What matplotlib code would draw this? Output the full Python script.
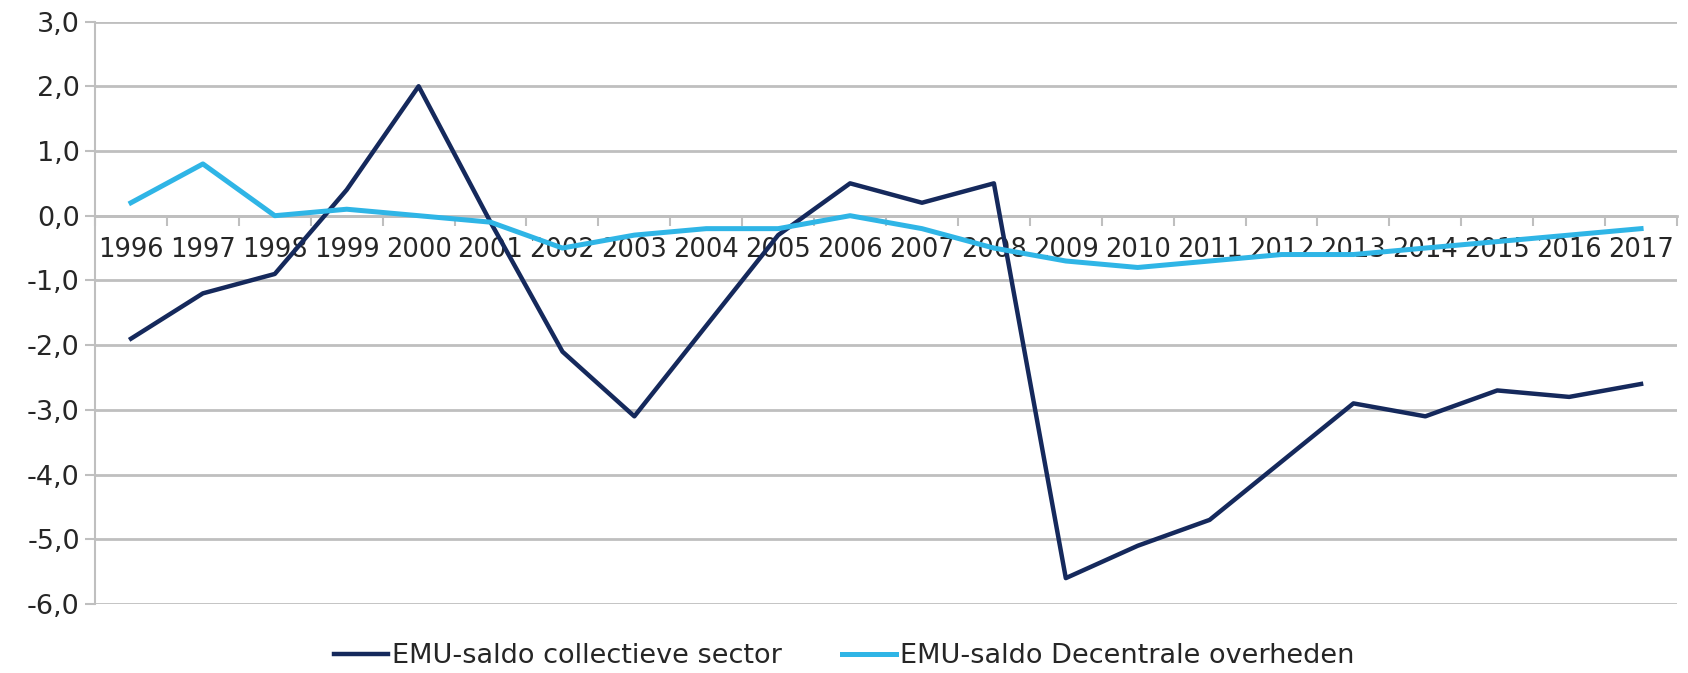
import numpy as np
import matplotlib.pyplot as plt
from matplotlib.ticker import FixedLocator, FuncFormatter

# data
years = [str(y) for y in range(1996, 2018)]
collectief = [-1.9, -1.2, -0.9, 0.4, 2.0, -0.1, -2.1, -3.1, -1.7, -0.3, 0.5,
              0.2, 0.5, -5.6, -5.1, -4.7, -3.8, -2.9, -3.1, -2.7, -2.8, -2.6]
decentraal = [0.2, 0.8, 0.0, 0.1, 0.0, -0.1, -0.5, -0.3, -0.2, -0.2, 0.0,
              -0.2, -0.5, -0.7, -0.8, -0.7, -0.6, -0.6, -0.5, -0.4, -0.3, -0.2]
labels = ['EMU-saldo collectieve sector', 'EMU-saldo Decentrale overheden']

dark = '#15295C'
light = '#2FB5E6'
grid = '#BFBFBF'
txt = '#262626'

plt.rcParams['font.family'] = ['DejaVu Sans']

fig = plt.figure(figsize=(16.88, 6.73), dpi=100)
ax = fig.add_axes([0.0563, 0.1025, 0.9372, 0.8655])

x = np.arange(len(years))
ax.plot(x, collectief, color=dark, lw=3.2, label=labels[0], zorder=3)
ax.plot(x, decentraal, color=light, lw=3.6, label=labels[1], zorder=3)

ax.set_xlim(-0.5, len(years) - 0.5)
ax.set_ylim(-6, 3)

# y axis
ax.yaxis.set_major_locator(FixedLocator(np.arange(-6, 4, 1)))
ax.yaxis.set_major_formatter(FuncFormatter(lambda v, p: f'{v:.1f}'.replace('.', ',')))
ax.grid(axis='y', color=grid, lw=2)
ax.set_axisbelow(True)
ax.tick_params(axis='y', length=7, width=1.5, color=grid, pad=4,
               labelsize=19.5, labelcolor=txt)

# x axis sits on the zero line
ax.spines['bottom'].set_position(('data', 0))
ax.spines['bottom'].set_color(grid)
ax.spines['bottom'].set_linewidth(2)
ax.spines['left'].set_color(grid)
ax.spines['left'].set_linewidth(1.5)
ax.spines['top'].set_visible(False)
ax.spines['right'].set_visible(False)

ax.set_xticks(np.arange(-0.5, len(years), 1))
ax.set_xticklabels([])
ax.tick_params(axis='x', which='major', direction='out', length=7, width=1.5, color=grid)
ax.set_xticks(x, minor=True)
ax.set_xticklabels(years, minor=True)
ax.tick_params(axis='x', which='minor', length=0, pad=15, labelsize=18.5, labelcolor=txt)

fig.legend(loc='center', bbox_to_anchor=(0.5, 0.025), ncol=2, frameon=False,
           fontsize=19.5, handlelength=2.0, handletextpad=0.15, columnspacing=2.2,
           labelcolor=txt)

fig.savefig('out.png', dpi=100, facecolor='white')
